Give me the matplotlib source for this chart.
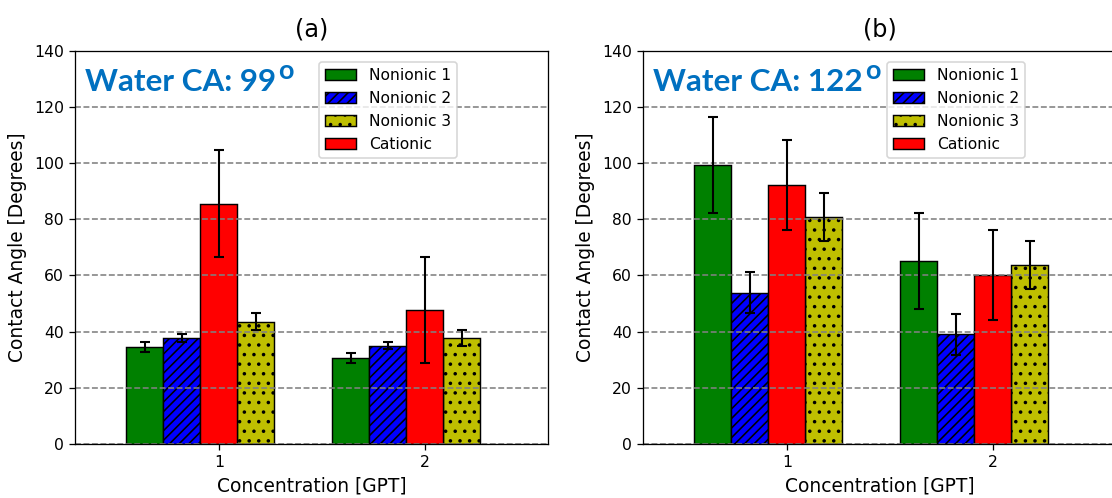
import numpy as np
import matplotlib
matplotlib.use("Agg")
import matplotlib.pyplot as plt
from matplotlib.patches import Patch

# ---- data -------------------------------------------------------------
concentrations = [1, 2]
series_names = ["Nonionic 1", "Nonionic 2", "Nonionic 3", "Cationic"]

panel_titles = ["(a)", "(b)"]
water_ca = ["99", "122"]

# panel (a)
a_nonionic1 = [34.5, 30.7]
a_nonionic1_err = [1.8, 1.8]
a_nonionic2 = [37.7, 35.0]
a_nonionic2_err = [1.4, 1.3]
a_nonionic3 = [43.6, 37.8]
a_nonionic3_err = [3.0, 2.8]
a_cationic = [85.5, 47.7]
a_cationic_err = [19.0, 19.0]

# panel (b)
b_nonionic1 = [99.3, 65.2]
b_nonionic1_err = [17.0, 17.0]
b_nonionic2 = [53.8, 39.1]
b_nonionic2_err = [7.3, 7.3]
b_nonionic3 = [80.8, 63.7]
b_nonionic3_err = [8.7, 8.6]
b_cationic = [92.1, 60.1]
b_cationic_err = [16.0, 16.0]

y_ticks = [0, 20, 40, 60, 80, 100, 120, 140]

# ---- styling ----------------------------------------------------------
DPI = 115
W, H = 1112, 498
colors = {"Nonionic 1": "g", "Nonionic 2": "b", "Nonionic 3": "y", "Cationic": "r"}
hatches = {"Nonionic 1": None, "Nonionic 2": "////", "Nonionic 3": "..", "Cationic": None}
bar_w = 0.18
offsets = {"Nonionic 1": -2 * bar_w, "Nonionic 2": -bar_w, "Cationic": 0.0, "Nonionic 3": bar_w}


def px(p):
    """pixels -> points"""
    return p * 72.0 / DPI


plt.rcParams["font.family"] = ["DejaVu Sans"]
plt.rcParams["hatch.linewidth"] = 1.0

fig = plt.figure(figsize=(W / DPI, H / DPI), dpi=DPI)

ax_w = 473 / W
ax_h = 393.3 / H
ax_b = 54 / H
axes = [fig.add_axes([75 / W, ax_b, ax_w, ax_h]),
        fig.add_axes([643 / W, ax_b, ax_w, ax_h])]

panels = [
    {"Nonionic 1": (a_nonionic1, a_nonionic1_err),
     "Nonionic 2": (a_nonionic2, a_nonionic2_err),
     "Nonionic 3": (a_nonionic3, a_nonionic3_err),
     "Cationic": (a_cationic, a_cationic_err)},
    {"Nonionic 1": (b_nonionic1, b_nonionic1_err),
     "Nonionic 2": (b_nonionic2, b_nonionic2_err),
     "Nonionic 3": (b_nonionic3, b_nonionic3_err),
     "Cationic": (b_cationic, b_cationic_err)},
]

x = np.array(concentrations, dtype=float)

for ax, data, title, ca in zip(axes, panels, panel_titles, water_ca):
    handles = []
    for name in series_names:
        vals, errs = data[name]
        ax.bar(x + offsets[name], vals, bar_w, yerr=errs,
               color=colors[name], edgecolor="black", linewidth=0.9,
               hatch=hatches[name],
               capsize=3.4,
               error_kw=dict(ecolor="black", elinewidth=1.3, capthick=1.3))
        handles.append(Patch(facecolor=colors[name], edgecolor="black",
                             linewidth=0.9, hatch=hatches[name], label=name))

    ax.set_xlim(0.3, 2.6)
    ax.set_ylim(0, 140)
    ax.set_xticks(concentrations)
    ax.set_xticklabels([str(c) for c in concentrations])
    ax.set_yticks(y_ticks)
    ax.tick_params(labelsize=px(15.6))
    ax.yaxis.grid(True, linestyle="--", color="gray", linewidth=1.0)

    ax.set_xlabel("Concentration [GPT]", fontsize=px(18.6))
    ax.set_ylabel("Contact Angle [Degrees]", fontsize=px(18.6))
    ax.set_title(title, fontsize=px(24), pad=px(14))

    ca_text = ax.text(0.021, 0.8975, f"Water CA: {ca}", transform=ax.transAxes,
                      fontsize=px(31.4), fontweight="bold", family="Lato",
                      color="#0070C0", ha="left", va="baseline", zorder=4)
    ax.annotate("o", xy=(1, 1), xycoords=ca_text, xytext=(px(2), px(9)),
                textcoords="offset points", fontsize=px(27), fontweight="bold",
                family="Lato", color="#0070C0", ha="left", va="top", zorder=4)

    ax.legend(handles=handles, loc="upper left", bbox_to_anchor=(0.516, 0.971),
              borderaxespad=0, fontsize=px(15.5))

fig.savefig("out.png", dpi=DPI)
